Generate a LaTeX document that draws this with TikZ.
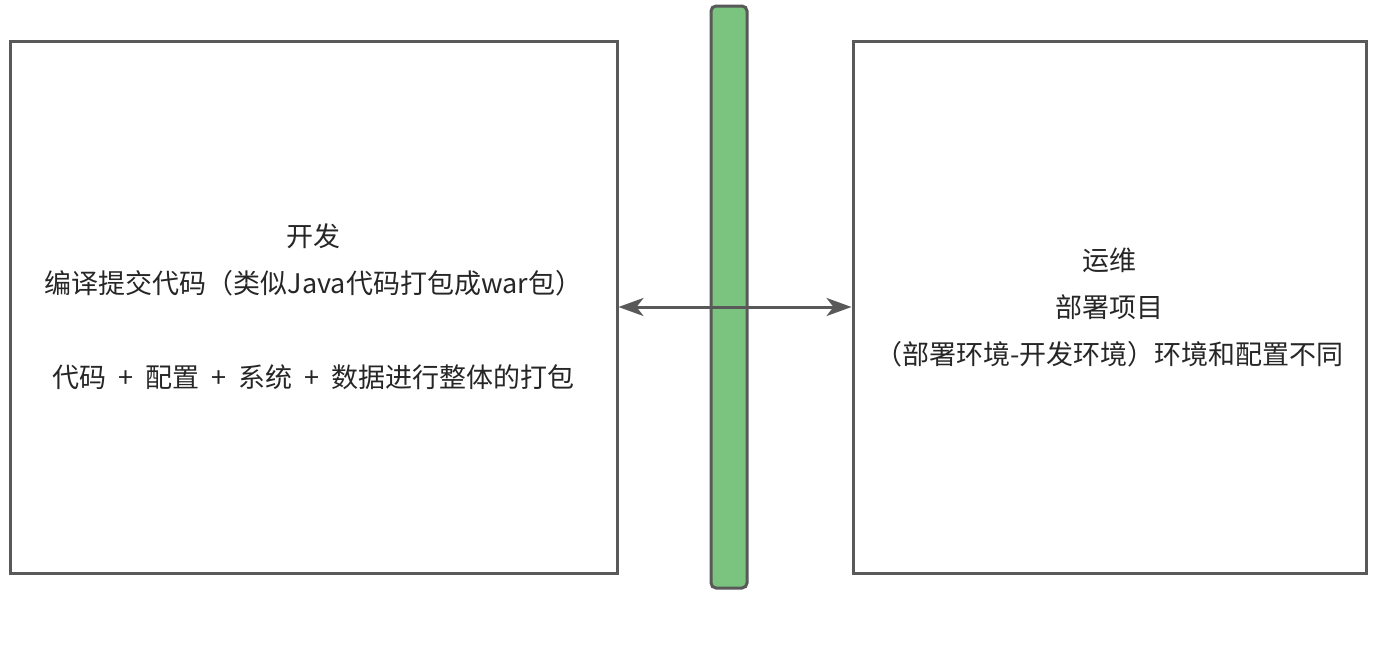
\documentclass[tikz,border=0pt]{standalone}
\usepackage{fontspec}
\setmainfont{Noto Sans CJK SC}
\usetikzlibrary{arrows.meta, positioning}
\definecolor{edgegray}{HTML}{595959}
\definecolor{wallgreen}{HTML}{7AC47F}
\newcommand{\plussep}{\hspace{0.45em}+\hspace{0.45em}}

\tikzset{
  stagebox/.style={draw=edgegray, line width=3pt, fill=white, inner sep=0pt,
    align=center, font=\fontsize{27}{47}\selectfont, text=black!85},
  wallbar/.style={draw=edgegray, line width=3pt, fill=wallgreen, rounded corners=5pt},
  linkarrow/.style={draw=edgegray, line width=3pt,
    {Stealth[length=25pt,width=18pt,inset=7pt]}-{Stealth[length=25pt,width=18pt,inset=7pt]}}
}

\begin{document}
\begin{tikzpicture}[x=1pt,y=-1pt]
\useasboundingbox (0,0) rectangle (1376,659);

% the wall between the two sides
\draw[wallbar] (711,6) rectangle (747,588);

% development side
\node[stagebox, minimum width=607pt, minimum height=532pt] (dev) at (313.5,307)
  {开发\\编译提交代码（类似Java代码打包成war包）\\[47pt]代码\plussep 配置\plussep 系统\plussep 数据进行整体的打包};

% operations side
\node[stagebox, minimum width=513pt, minimum height=532pt] (ops) at (1109.5,307)
  {运维\\部署项目\\（部署环境-开发环境）环境和配置不同};

\draw[linkarrow] (dev.east) -- (ops.west);
\end{tikzpicture}
\end{document}
